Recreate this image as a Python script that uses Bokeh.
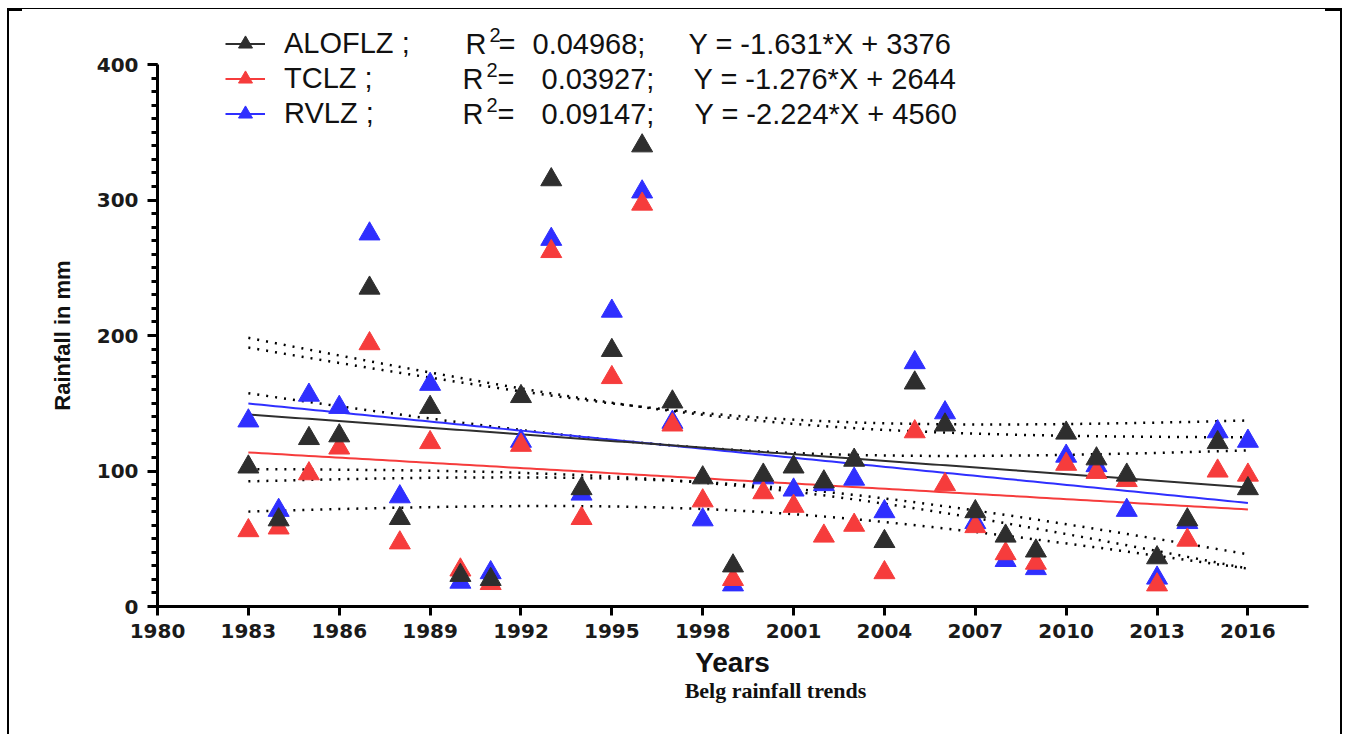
import numpy as np
from bokeh.plotting import figure
from bokeh.models import Range1d, FixedTicker, Label, Legend, LegendItem
from bokeh.embed import file_html
from bokeh.resources import INLINE

# ---------------- data ----------------
years = list(range(1983, 2017))
aloflz = [103, 64, 124, 126, 235, 65, 147, 23, 20, 155, 315, 87, 189, 340, 151, 95, 30,
          97, 103, 92, 108, 48, 165, 134, 70, 52, 41, 128, 109, 97, 36, 64, 121, 87]
tclz = [56, 58, 98, 117, 194, 47, 121, 27, 17, 119, 262, 65, 169, 297, 134, 78, 20,
        84, 74, 52, 60, 25, 129, 90, 59, 39, 32, 105, 99, 93, 16, 49, 100, 97]
rvlz = [137, 71, 156, 147, 275, 81, 164, 18, 25, 122, 271, 83, 218, 306, 136, 64, 16,
        95, 86, 90, 94, 70, 180, 143, 62, 34, 28, 111, 104, 71, 21, 62, 129, 122]
series_names = ["ALOFLZ ;", "TCLZ ;", "RVLZ ;"]
r2_values = ["0.04968;", "0.03927;", "0.09147;"]
slopes = [-1.631, -1.276, -2.224]
intercepts = [3376, 2644, 4560]
equations = ["Y = -1.631*X + 3376", "Y = -1.276*X + 2644", "Y = -2.224*X + 4560"]
x_ticks = list(range(1980, 2017, 3))
y_ticks = [0, 100, 200, 300, 400]
y_minor = list(range(0, 401, 10))
x_axis_span = (1980, 2018)
y_axis_span = (0, 400)
t_crit = 2.037  # 95% two-sided, 32 d.f.

colors = ["#2e2e2e", "#f63c3c", "#2f2fff"]

# ---------------- layout (pixel geometry) ----------------
W, H = 1347, 734
PX_XA, PX_XB = 157, 1308      # screen x of 1980 and 2018
PY_YA, PY_YB = 606, 64        # screen y of 0 and 400
kx = (PX_XB - PX_XA) / (x_axis_span[1] - x_axis_span[0])
ky = (PY_YA - PY_YB) / (y_axis_span[1] - y_axis_span[0])
XMIN = x_axis_span[0] - PX_XA / kx
XMAX = x_axis_span[0] + (W - PX_XA) / kx
YMIN = y_axis_span[0] - (H - PY_YA) / ky
YMAX = y_axis_span[0] + PY_YA / ky


def dx(px):
    return x_axis_span[0] + (px - PX_XA) / kx


def dy(py):
    return y_axis_span[0] + (PY_YA - py) / ky


p = figure(width=W, height=H, x_range=Range1d(XMIN, XMAX), y_range=Range1d(YMIN, YMAX),
           output_backend="svg", toolbar_location=None, title=None,
           min_border=0, min_border_left=0, min_border_right=0,
           min_border_top=0, min_border_bottom=0)
p.border_fill_color = None
p.background_fill_color = None
p.outline_line_color = None
p.xgrid.grid_line_color = None
p.ygrid.grid_line_color = None
p.styles = {
    "background-color": "white",
    "background-image": ", ".join(["linear-gradient(#000,#000)"] * 5),
    "background-size": "2px 740px, 1335px 1px, 2px 740px, 15px 3px, 17px 3px",
    "background-position": "7px 9px, 7px 8px, 1340px 9px, 7px 8px, 1325px 8px",
    "background-repeat": "no-repeat",
}

# axes at fixed positions inside the full-canvas frame
for ax in (p.xaxis[0], p.yaxis[0]):
    ax.axis_line_width = 3
    ax.axis_line_color = "black"
    ax.major_tick_line_width = 3
    ax.minor_tick_line_width = 3
    ax.major_tick_in = 0
    ax.minor_tick_in = 0
    ax.major_label_text_font = "DejaVu Sans"
    ax.major_label_text_font_style = "bold"
    ax.major_label_text_font_size = "20px"
    ax.major_label_text_color = "#1a1a1a"

p.xaxis.fixed_location = y_axis_span[0]
p.xaxis.bounds = x_axis_span
p.xaxis.ticker = FixedTicker(ticks=x_ticks, minor_ticks=[])
p.xaxis.major_tick_out = 9
p.xaxis.major_label_standoff = 8

p.yaxis.fixed_location = x_axis_span[0]
p.yaxis.bounds = y_axis_span
p.yaxis.ticker = FixedTicker(ticks=y_ticks, minor_ticks=y_minor)
p.yaxis.major_tick_out = 10
p.yaxis.minor_tick_out = 6
p.yaxis.major_label_standoff = 9

# confidence bands and regression lines
x = np.array(years, dtype=float)
xs = np.linspace(min(years), max(years), 150)
n = len(years)
xbar = x.mean()
sxx = ((x - xbar) ** 2).sum()
all_series = [aloflz, tclz, rvlz]
line_renderers = [None, None, None]
scatter_renderers = [None, None, None]
for i in (2, 1, 0):
    y = np.array(all_series[i], dtype=float)
    fit = slopes[i] * x + intercepts[i]
    s = np.sqrt(((y - fit) ** 2).sum() / (n - 2))
    yl = slopes[i] * xs + intercepts[i]
    half = t_crit * s * np.sqrt(1.0 / n + (xs - xbar) ** 2 / sxx)
    p.line(xs, yl + half, line_color="black", line_width=2.5, line_dash="2 7")
    p.line(xs, yl - half, line_color="black", line_width=2.5, line_dash="2 7")

for i in (2, 1, 0):
    yl = slopes[i] * xs + intercepts[i]
    line_renderers[i] = p.line(xs, yl, line_color=colors[i], line_width=2)

for i in (2, 1, 0):
    scatter_renderers[i] = p.scatter(years, all_series[i], marker="triangle", size=21,
                                     fill_color=colors[i], line_color=colors[i])

legend = Legend(items=[LegendItem(label=series_names[i],
                                  renderers=[line_renderers[i], scatter_renderers[i]])
                       for i in range(3)],
                location=(225, H - 131), glyph_width=40, glyph_height=35, spacing=0,
                padding=0, margin=0, border_line_color=None, background_fill_alpha=0,
                label_text_font="Liberation Sans", label_text_font_size="29px",
                label_text_color="#111111", label_standoff=19, label_height=35)
p.add_layout(legend)

row_y = [43, 78, 113]
r_px = [465, 462, 462]
eq_sign_px = [498, 497, 497]
r2_px = [532, 541, 541]
eqn_px = [688, 693, 694]
for i in range(3):
    common = dict(text_font="Liberation Sans", text_font_size="29px",
                  text_color="#111111", text_baseline="middle")
    p.add_layout(Label(x=dx(r_px[i]), y=dy(row_y[i]), text="R", **common))
    p.add_layout(Label(x=dx(r_px[i] + 24), y=dy(row_y[i] - 9), text="2",
                       text_font="Liberation Sans", text_font_size="20px",
                       text_color="#111111", text_baseline="middle"))
    p.add_layout(Label(x=dx(eq_sign_px[i]), y=dy(row_y[i]), text="=", **common))
    p.add_layout(Label(x=dx(r2_px[i]), y=dy(row_y[i]), text=r2_values[i], **common))
    p.add_layout(Label(x=dx(eqn_px[i]), y=dy(row_y[i]), text=equations[i], **common))

# axis titles and caption
p.add_layout(Label(x=dx(62), y=dy(335), text="Rainfall in mm", angle=np.pi / 2,
                   text_align="center", text_baseline="middle",
                   text_font="Liberation Sans", text_font_style="bold",
                   text_font_size="22px", text_color="#111111"))
p.add_layout(Label(x=dx(732), y=dy(662), text="Years", text_align="center",
                   text_baseline="middle", text_font="Liberation Sans",
                   text_font_style="bold", text_font_size="28px", text_color="#111111"))
p.add_layout(Label(x=dx(775), y=dy(690), text="Belg rainfall trends", text_align="center",
                   text_baseline="middle", text_font="Liberation Serif",
                   text_font_style="bold", text_font_size="22px", text_color="#111111"))

open("out.html", "w").write(file_html(p, INLINE))
